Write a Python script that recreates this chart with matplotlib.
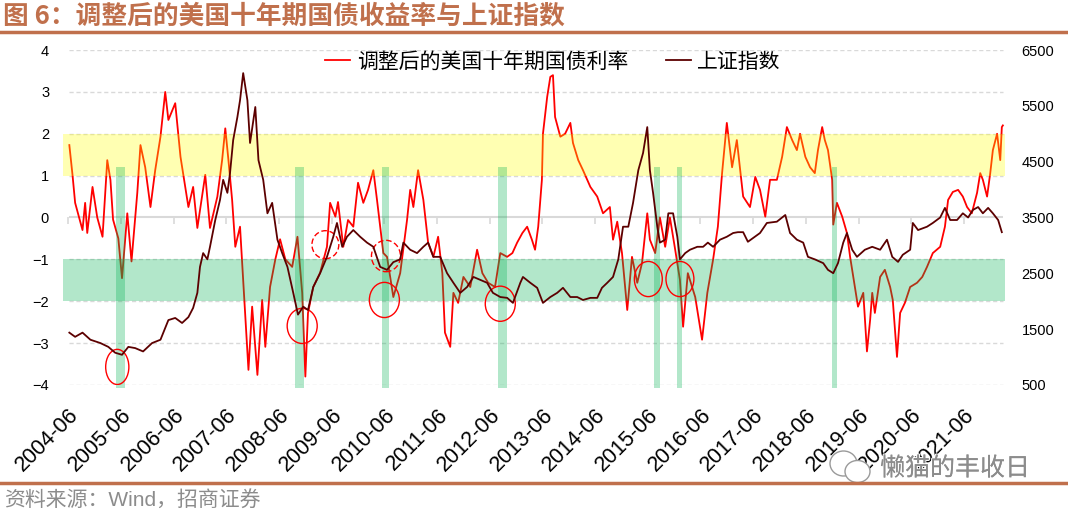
import matplotlib
matplotlib.use('Agg')
import matplotlib.pyplot as plt
import matplotlib.patheffects as pe
from matplotlib.lines import Line2D
from matplotlib.patches import Ellipse, Rectangle

plt.rcParams['font.family'] = ['Liberation Sans', 'Noto Sans CJK SC']
CJK = ['Noto Sans CJK SC', 'Liberation Sans']

# adjusted US 10y yield (left axis), (year, value)
us_yield = [
    (2004.52, 1.73), (2004.58, 1.02), (2004.63, 0.35), (2004.77, -0.30), (2004.82, 0.35),
    (2004.86, -0.37), (2004.96, 0.73), (2005.05, 0.00), (2005.15, -0.46), (2005.24, 1.37),
    (2005.30, 0.90), (2005.35, -0.05), (2005.45, -0.50), (2005.52, -1.45), (2005.62, 0.10),
    (2005.70, -1.05), (2005.81, 0.59), (2005.87, 1.73), (2005.96, 1.20), (2006.06, 0.25),
    (2006.15, 1.13), (2006.25, 1.93), (2006.34, 3.00), (2006.40, 2.33), (2006.53, 2.73),
    (2006.63, 1.45), (2006.78, 0.25), (2006.87, 0.73), (2006.95, -0.25), (2007.10, 1.02),
    (2007.19, -0.25), (2007.33, 0.50), (2007.42, 1.37), (2007.48, 2.13), (2007.54, 1.37),
    (2007.61, 0.42), (2007.67, -0.70), (2007.76, -0.22), (2007.92, -3.64), (2007.99, -2.13),
    (2008.09, -3.76), (2008.18, -1.97), (2008.24, -3.09), (2008.33, -1.66), (2008.43, -1.00),
    (2008.52, -0.52), (2008.62, -1.00), (2008.75, -1.18), (2008.85, -0.46), (2008.94, -1.80),
    (2009.00, -3.80), (2009.05, -2.28), (2009.15, -1.66), (2009.28, -1.32), (2009.41, -0.70),
    (2009.47, 0.35), (2009.57, 0.02), (2009.62, 0.37), (2009.72, -0.70), (2009.81, -0.06),
    (2009.91, -0.22), (2010.00, 0.83), (2010.10, 0.35), (2010.19, 0.66), (2010.29, 1.13),
    (2010.36, 0.42), (2010.42, -0.22), (2010.48, -0.85), (2010.55, -0.94), (2010.67, -1.90),
    (2010.80, -1.33), (2010.93, -0.06), (2010.99, 0.66), (2011.05, 0.25), (2011.14, 1.13),
    (2011.24, 0.42), (2011.33, -0.60), (2011.43, -0.94), (2011.52, -0.46), (2011.60, -1.33),
    (2011.65, -2.75), (2011.75, -3.09), (2011.81, -1.80), (2011.90, -2.04), (2012.00, -1.42),
    (2012.13, -1.66), (2012.26, -0.77), (2012.36, -1.33), (2012.47, -1.56), (2012.60, -1.66),
    (2012.70, -0.85), (2012.83, -0.94), (2012.93, -0.85), (2013.02, -0.60), (2013.12, -0.37),
    (2013.21, -0.22), (2013.30, -0.53), (2013.36, -0.77), (2013.42, -0.22), (2013.49, 0.90),
    (2013.51, 2.00), (2013.59, 2.88), (2013.65, 3.36), (2013.70, 3.40), (2013.74, 2.40),
    (2013.84, 1.93), (2013.93, 2.00), (2014.03, 2.26), (2014.08, 1.78), (2014.18, 1.37),
    (2014.27, 1.13), (2014.41, 0.73), (2014.54, 0.50), (2014.65, 0.10), (2014.78, 0.25),
    (2014.84, -0.53), (2014.92, -0.10), (2015.01, -0.85), (2015.11, -2.21), (2015.20, -0.94),
    (2015.30, -1.56), (2015.39, -1.09), (2015.49, 0.10), (2015.54, -0.53), (2015.64, -0.85),
    (2015.73, 0.00), (2015.83, -0.70), (2015.92, 0.00), (2016.02, -0.77), (2016.11, -1.49),
    (2016.17, -2.61), (2016.26, -1.33), (2016.40, -1.90), (2016.53, -2.92), (2016.63, -1.80),
    (2016.74, -1.00), (2016.83, -0.22), (2016.91, 1.06), (2017.00, 2.26), (2017.10, 1.20),
    (2017.19, 1.85), (2017.31, 0.50), (2017.44, 0.25), (2017.54, 0.97), (2017.63, 0.66),
    (2017.73, 0.02), (2017.82, 0.90), (2017.95, 0.90), (2018.05, 1.45), (2018.14, 2.16),
    (2018.24, 1.85), (2018.33, 1.61), (2018.39, 2.00), (2018.49, 1.45), (2018.58, 1.20),
    (2018.67, 1.06), (2018.73, 1.61), (2018.81, 2.16), (2018.86, 1.85), (2018.92, 1.61),
    (2019.00, 0.90), (2019.02, -0.17), (2019.09, 0.35), (2019.19, 0.02), (2019.28, -0.37),
    (2019.34, -0.94), (2019.43, -1.66), (2019.49, -2.13), (2019.59, -1.80), (2019.66, -3.20),
    (2019.72, -2.45), (2019.76, -1.80), (2019.81, -2.28), (2019.91, -1.42), (2020.00, -1.25),
    (2020.10, -1.66), (2020.15, -1.97), (2020.23, -3.33), (2020.29, -2.28), (2020.38, -2.04),
    (2020.48, -1.66), (2020.61, -1.56), (2020.71, -1.42), (2020.80, -1.18), (2020.91, -0.85),
    (2021.05, -0.70), (2021.14, -0.22), (2021.20, 0.42), (2021.29, 0.61), (2021.39, 0.66),
    (2021.48, 0.50), (2021.56, 0.25), (2021.65, 0.10), (2021.75, 0.59), (2021.81, 1.06),
    (2021.86, 0.90), (2021.94, 0.50), (2022.00, 1.06), (2022.05, 1.61), (2022.13, 2.00),
    (2022.19, 1.37), (2022.22, 2.16), (2022.24, 2.20),
]

# Shanghai composite (right axis), (year, index)
sh_index = [
    (2004.52, 1437), (2004.63, 1362), (2004.77, 1437), (2004.92, 1310), (2005.11, 1250),
    (2005.26, 1182), (2005.39, 1077), (2005.52, 1040), (2005.64, 1182), (2005.77, 1160),
    (2005.92, 1100), (2006.09, 1250), (2006.25, 1310), (2006.40, 1662), (2006.53, 1700),
    (2006.66, 1610), (2006.78, 1715), (2006.87, 1880), (2006.95, 2150), (2007.00, 2615),
    (2007.06, 2862), (2007.14, 2750), (2007.19, 2975), (2007.29, 3455), (2007.38, 3815),
    (2007.44, 4175), (2007.52, 3942), (2007.57, 4295), (2007.63, 4887), (2007.71, 5300),
    (2007.76, 5600), (2007.82, 6087), (2007.90, 5600), (2007.95, 4835), (2008.05, 5480),
    (2008.11, 4527), (2008.20, 4175), (2008.28, 3575), (2008.37, 3762), (2008.47, 3102),
    (2008.56, 2862), (2008.66, 2615), (2008.77, 2150), (2008.86, 1760), (2008.96, 1902),
    (2009.05, 1842), (2009.15, 2255), (2009.28, 2502), (2009.41, 2795), (2009.53, 3155),
    (2009.60, 3402), (2009.70, 2975), (2009.79, 3155), (2009.91, 3275), (2010.04, 3155),
    (2010.17, 3050), (2010.29, 2975), (2010.42, 2615), (2010.55, 2562), (2010.67, 2700),
    (2010.80, 2750), (2010.86, 3050), (2010.99, 2922), (2011.12, 2862), (2011.24, 2975),
    (2011.33, 3050), (2011.43, 2795), (2011.56, 2795), (2011.69, 2502), (2011.81, 2330),
    (2011.94, 2150), (2012.07, 2255), (2012.19, 2435), (2012.32, 2382), (2012.45, 2330),
    (2012.56, 2150), (2012.70, 2075), (2012.83, 2060), (2012.94, 1970), (2013.08, 2330),
    (2013.13, 2435), (2013.27, 2330), (2013.40, 2240), (2013.51, 1970), (2013.65, 2075),
    (2013.78, 2150), (2013.89, 2240), (2014.03, 2075), (2014.16, 2075), (2014.27, 2022),
    (2014.41, 2060), (2014.54, 2060), (2014.63, 2240), (2014.73, 2330), (2014.84, 2435),
    (2014.94, 2750), (2015.03, 3335), (2015.13, 3335), (2015.22, 3762), (2015.32, 4347),
    (2015.41, 4655), (2015.49, 5120), (2015.54, 4347), (2015.60, 3942), (2015.68, 3335),
    (2015.73, 3050), (2015.83, 3102), (2015.89, 3575), (2015.98, 3575), (2016.06, 3155),
    (2016.11, 2750), (2016.21, 2862), (2016.30, 2922), (2016.44, 2975), (2016.55, 2975),
    (2016.64, 3050), (2016.74, 2975), (2016.87, 3102), (2017.00, 3155), (2017.12, 3222),
    (2017.21, 3237), (2017.31, 3237), (2017.40, 3065), (2017.63, 3222), (2017.76, 3402),
    (2017.95, 3425), (2018.11, 3545), (2018.20, 3222), (2018.33, 3102), (2018.45, 3050),
    (2018.54, 2795), (2018.67, 2750), (2018.83, 2682), (2018.92, 2562), (2019.02, 2502),
    (2019.11, 2682), (2019.21, 3050), (2019.28, 3222), (2019.38, 2922), (2019.47, 2795),
    (2019.62, 2922), (2019.76, 2975), (2019.91, 2922), (2020.04, 3102), (2020.14, 2795),
    (2020.25, 2705), (2020.34, 2832), (2020.48, 2922), (2020.53, 3402), (2020.63, 3275),
    (2020.80, 3335), (2020.91, 3402), (2021.05, 3500), (2021.14, 3672), (2021.24, 3455),
    (2021.37, 3455), (2021.48, 3575), (2021.58, 3500), (2021.67, 3635), (2021.77, 3687),
    (2021.86, 3575), (2021.96, 3672), (2022.05, 3575), (2022.15, 3455), (2022.22, 3237),
]

tick_labels = ['2004-06', '2005-06', '2006-06', '2007-06', '2008-06', '2009-06',
               '2010-06', '2011-06', '2012-06', '2013-06', '2014-06', '2015-06',
               '2016-06', '2017-06', '2018-06', '2019-06', '2020-06', '2021-06']
left_ticks = [-4, -3, -2, -1, 0, 1, 2, 3, 4]
right_ticks = [500, 1500, 2500, 3500, 4500, 5500, 6500]

# shaded zones on the yield scale
high_zone = (1, 2)
low_zone = (-2, -1)
# marked windows (start, end) in years
windows = [(2005.41, 2005.58), (2008.81, 2008.98), (2010.46, 2010.59), (2012.66, 2012.83),
           (2015.62, 2015.73), (2016.06, 2016.15), (2019.00, 2019.09)]
# circles: (year, value, width yrs, height, dashed)
circles = [(2005.43, -3.57, 0.44, 0.84, False), (2008.94, -2.59, 0.57, 0.84, False),
           (2010.50, -1.97, 0.57, 0.84, False), (2012.70, -2.06, 0.57, 0.84, False),
           (2015.51, -1.47, 0.53, 0.84, False), (2016.11, -1.47, 0.53, 0.84, False),
           (2009.38, -0.65, 0.51, 0.67, True), (2010.53, -0.92, 0.55, 0.75, True)]

title = '图 6：调整后的美国十年期国债收益率与上证指数'
brown = '#C0704C'
grid_c = '#D9D9D9'

t_us, v_us = zip(*us_yield)
t_sh, v_sh = zip(*sh_index)
tick_pos = [int(s[:4]) + 0.5 for s in tick_labels]

fig = plt.figure(figsize=(10.68, 5.16), dpi=100)
ax1 = fig.add_axes([0.059, 0.254, 0.882, 0.649])
ax2 = ax1.twinx()

# grid
ax1.hlines([y for y in left_ticks if y != 0], t_us[0], t_us[-1], color=grid_c,
           lw=1, linestyles=(0, (3, 2)), zorder=0)
ax1.hlines(0, t_us[0], t_us[-1], color=grid_c, lw=1.5, zorder=0)
ax1.plot(tick_pos, [0] * len(tick_pos), ls='none', marker=3, ms=5, mew=1.2,
         color=grid_c, zorder=0)

l1, = ax1.plot(t_us, v_us, color='#FF0000', lw=1.3, label='调整后的美国十年期国债利率')
l2, = ax2.plot(t_sh, v_sh, color='#5C0000', lw=1.3, label='上证指数')

for (lo, hi), c in [(high_zone, '#FFFF00'), (low_zone, '#00B050')]:
    ax2.add_patch(Rectangle((0, lo), 1, hi - lo, transform=ax1.get_yaxis_transform(),
                            facecolor=c, alpha=0.3, lw=0))
for a, b in windows:
    ax2.add_patch(Rectangle((a, -4.08), b - a, 5.28, transform=ax1.transData,
                            facecolor='#00B050', alpha=0.3, lw=0, clip_on=False))
for x, y, w, h, dashed in circles:
    ax2.add_patch(Ellipse((x, y), w, h, transform=ax1.transData, fill=False,
                          ec='#FF0000', lw=1, ls=(0, (4, 2)) if dashed else '-'))

ax1.set_xlim(2004.40, 2022.28)
ax1.set_ylim(-4, 4)
ax2.set_ylim(500, 6500)

ax1.set_yticks(left_ticks)
ax2.set_yticks(right_ticks)
ax1.set_xticks(tick_pos)
ax1.set_xticklabels(tick_labels, rotation=45, ha='right', rotation_mode='anchor', fontsize=15.5)
ax1.tick_params(axis='x', length=0, pad=14)
ax1.tick_params(axis='y', length=0, pad=10, labelsize=10.5)
ax2.tick_params(axis='y', length=0, pad=12, labelsize=10.5)
for ax in (ax1, ax2):
    for sp in ax.spines.values():
        sp.set_visible(False)

ax2.legend([l1, l2], [l1.get_label(), l2.get_label()], loc='center',
           bbox_to_anchor=(0.52, 0.965), ncol=2, frameon=False,
           prop={'family': CJK, 'size': 15}, handlelength=1.2, handletextpad=0.3,
           columnspacing=1.8)

# header / footer
fig.text(0.003, 0.969, title, fontsize=18.5, weight='bold', color=brown, family=CJK, va='center')
fig.add_artist(Line2D([0, 1], [0.938, 0.938], lw=2.5, color=brown))
fig.add_artist(Line2D([0, 1], [0.064, 0.064], lw=2.5, color=brown))
fig.text(0.004, 0.031, '资料来源：Wind，招商证券', fontsize=15, color='#8C8C8C',
         family=['Liberation Sans', 'Noto Sans CJK SC'], va='center')

# watermark
fig.add_artist(Ellipse((843.5 / 1068, 1 - 463.5 / 516), 27 / 1068, 25 / 516,
                       transform=fig.transFigure, fc='white', ec='#9A9A9A', lw=1))
fig.add_artist(Ellipse((857.5 / 1068, 1 - 471.5 / 516), 25 / 1068, 22 / 516,
                       transform=fig.transFigure, fc='white', ec='#9A9A9A', lw=1))
wm = fig.text(0.824, 0.092, '懒猫的丰收日', fontsize=18, color='#8C8C8C', family=CJK,
              va='center')
wm.set_path_effects([pe.withStroke(linewidth=1.5, foreground='white'), pe.Normal()])

fig.savefig('out.png', dpi=100)
